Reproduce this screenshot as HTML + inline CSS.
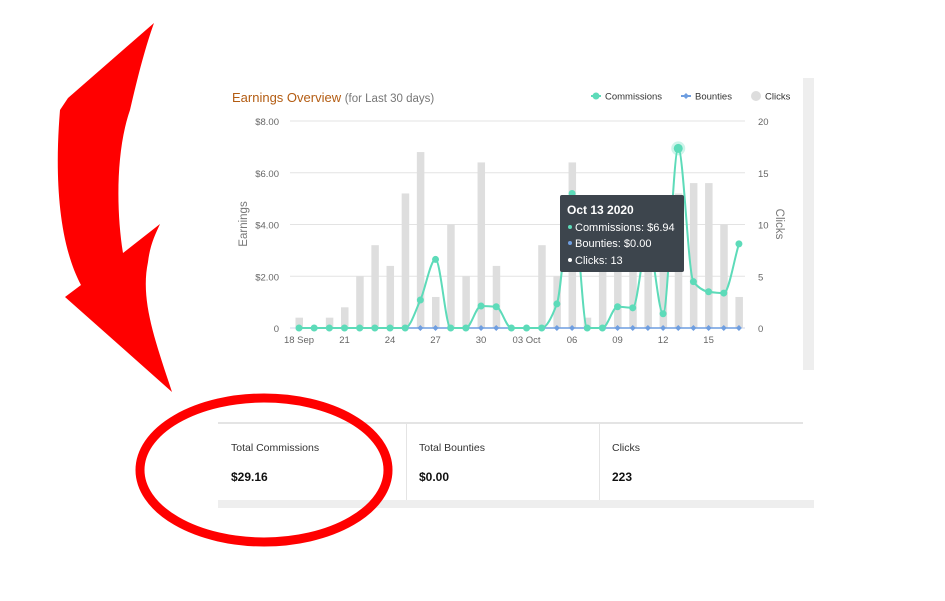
<!DOCTYPE html>
<html><head><meta charset="utf-8"><style>
body{margin:0;width:945px;height:601px;background:#fff;overflow:hidden;font-family:"Liberation Sans",sans-serif;position:relative}
.stat{position:absolute;top:424px;height:76px;background:#fff}
.stat .l{position:absolute;left:12px;top:18px;font-size:10.5px;color:#333}
.stat .v{position:absolute;left:12px;top:46px;font-size:12px;font-weight:bold;color:#111}
</style></head><body>
<div style="position:absolute;left:803px;top:78px;width:11px;height:292px;background:#eee"></div>
<div style="position:absolute;left:218px;top:500px;width:596px;height:8px;background:#eee"></div>
<div style="position:absolute;left:218px;top:422px;width:585px;height:2px;background:#e4e4e4"></div>
<div class="stat" style="left:219px;width:187px"><div class="l">Total Commissions</div><div class="v">$29.16</div></div>
<div class="stat" style="left:406px;width:193px;border-left:1px solid #e4e4e4"><div class="l">Total Bounties</div><div class="v">$0.00</div></div>
<div class="stat" style="left:599px;width:203px;border-left:1px solid #e4e4e4"><div class="l">Clicks</div><div class="v">223</div></div>
<svg id="chart" width="945" height="601" style="position:absolute;left:0;top:0">
<text x="232" y="102" font-size="13" fill="#b35c12">Earnings Overview <tspan fill="#777" font-size="11.5">(for Last 30 days)</tspan></text>
<g font-size="9.5" fill="#333">
<circle cx="596" cy="96" r="3.5" fill="#5ddbb9"/><line x1="591" y1="96" x2="601" y2="96" stroke="#5ddbb9" stroke-width="2"/><text x="605" y="99.5">Commissions</text>
<line x1="681" y1="96" x2="691" y2="96" stroke="#6f9ee0" stroke-width="2"/><path d="M686 93 L689 96 L686 99 L683 96Z" fill="#6f9ee0"/><text x="695" y="99.5">Bounties</text>
<circle cx="756" cy="96" r="5" fill="#ddd"/><text x="765" y="99.5">Clicks</text>
</g>
<text transform="translate(247,224) rotate(-90)" text-anchor="middle" font-size="11.5" fill="#777">Earnings</text>
<text transform="translate(776,224) rotate(90)" text-anchor="middle" font-size="11.5" fill="#777">Clicks</text>
<g id="grid"></g><g id="bars"></g><g id="lines"></g><g id="labels"></g>
<g>
<rect x="560" y="195" width="124" height="77" rx="2" fill="#3d454d"/>
<text x="567" y="214" font-size="12" font-weight="bold" fill="#fff">Oct 13 2020</text>
<circle cx="570" cy="227" r="2" fill="#5ddbb9"/><text x="575" y="231" font-size="11" fill="#fff">Commissions: $6.94</text>
<circle cx="570" cy="243" r="2" fill="#6f9ee0"/><text x="575" y="247" font-size="11" fill="#fff">Bounties: $0.00</text>
<circle cx="570" cy="260" r="2" fill="#fff"/><text x="575" y="264" font-size="11" fill="#fff">Clicks: 13</text>
</g>
<path fill="#ff0000" d="M154,23 L68,98 L60,110 C55,170 57,240 81,285 L65,297 L172,392 C155,340 140,300 148,262 C150,245 155,235 160,224 L123,253 C116,210 116,150 130,110 C138,75 146,45 154,23Z"/>
<ellipse cx="264" cy="470" rx="124" ry="72" fill="none" stroke="#ff0000" stroke-width="9"/>
</svg>
<script>
const dayLabels=["18 Sep","19","20","21","22","23","24","25","26","27","28","29","30","01 Oct","02","03 Oct","04","05","06","07","08","09","10","11","12","13","14","15","16","17"];
const tickDays=[0,3,6,9,12,15,18,21,24,27];
const commissions=[0,0,0,0,0,0,0,0,1.08,2.65,0,0,0.85,0.82,0,0,0,0.93,5.2,0,0,0.82,0.78,3.4,0.55,6.94,1.79,1.4,1.35,3.25];
const bounties=[0,0,0,0,0,0,0,0,0,0,0,0,0,0,0,0,0,0,0,0,0,0,0,0,0,0,0,0,0,0];
const clicks=[1,0,1,2,5,8,6,13,17,3,10,5,16,6,0,0,8,5,16,1,6,6,6,8,6,13,14,14,10,3];
const earnTicks=[0,2,4,6,8];
const clickTicks=[0,5,10,15,20];
const NS="http://www.w3.org/2000/svg";
const X0=299,STEP=15.17,YB=328,YT=121;
const xs=i=>X0+i*STEP;
const ye=v=>YB-(v/8)*(YB-YT);
const yc=v=>YB-(v/20)*(YB-YT);
function mk(tag,attrs,parent){const e=document.createElementNS(NS,tag);for(const k in attrs)e.setAttribute(k,attrs[k]);document.getElementById(parent).appendChild(e);return e;}
earnTicks.forEach((t,i)=>{
 const y=ye(t);
 const g=mk('line',{x1:290,x2:745,y1:y,y2:y,stroke:t===0?'#ccd6eb':'#e3e3e3','stroke-width':1},'grid');
 
 
 const l=mk('text',{x:279,y:y+4,'text-anchor':'end','font-size':9.5,fill:'#666'},'labels');
 l.textContent=t===0?'0':'$'+t.toFixed(2);
 
 
});
clickTicks.forEach(t=>{
 const l=mk('text',{x:758,y:yc(t)+4,'font-size':9.5,fill:'#666'},'labels');
 l.textContent=t;
 
 
});
tickDays.forEach(d=>{
 const l=mk('text',{x:xs(d),y:343,'text-anchor':'middle','font-size':9.5,fill:'#666'},'labels');
 l.textContent=dayLabels[d];
 
 
});
clicks.forEach((c,i)=>{
 const r=mk('rect',{x:xs(i)-3.5,y:yc(c),width:7.5,height:YB-yc(c),fill:'#dedede'},'bars');
 
 
});
function spline(vals,yf){
 const p=vals.map((v,i)=>[xs(i),yf(v)]);
 const n=p.length;const h=STEP;
 const dl=[];for(let i=0;i<n-1;i++)dl.push((p[i+1][1]-p[i][1])/h);
 const m=[];
 for(let i=0;i<n;i++){
  if(i===0)m.push(dl[0]);else if(i===n-1)m.push(dl[n-2]);
  else if(dl[i-1]*dl[i]<=0)m.push(0);
  else m.push(2/(1/dl[i-1]+1/dl[i]));
 }
 let d='M'+p[0][0]+','+p[0][1];
 for(let i=0;i<n-1;i++){
  const a=p[i],b=p[i+1];
  d+=` C${a[0]+h/3},${a[1]+m[i]*h/3} ${b[0]-h/3},${b[1]-m[i+1]*h/3} ${b[0]},${b[1]}`;
 }
 return d;
}
const bl=mk('path',{d:spline(bounties,ye),fill:'none',stroke:'#6f9ee0','stroke-width':1.5},'lines');


bounties.forEach((v,i)=>{
 const mm=mk('path',{d:`M${xs(i)},${ye(v)-3} l3,3 l-3,3 l-3,-3Z`,fill:'#6f9ee0'},'lines');
 
 
});
const cl=mk('path',{d:spline(commissions,ye),fill:'none',stroke:'#5ddbb9','stroke-width':2},'lines');


commissions.forEach((v,i)=>{
 if(i===25){const h=mk('circle',{cx:xs(i),cy:ye(v),r:7,fill:'#5ddbb9','fill-opacity':0.3},'lines');
  
  }
 const c=mk('circle',{cx:xs(i),cy:ye(v),r:i===25?4.5:3.5,fill:'#5ddbb9'},'lines');
 
 
});
</script>
</body></html>
